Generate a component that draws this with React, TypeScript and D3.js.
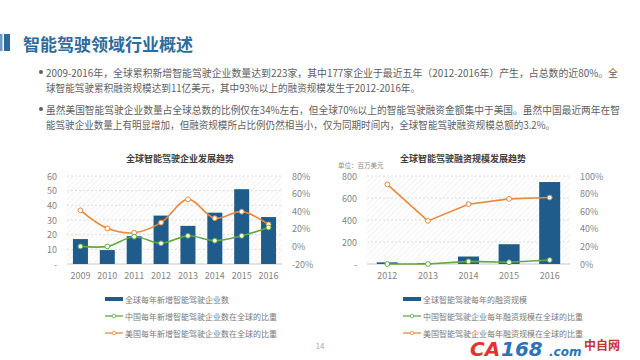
import React from "react";
import * as d3 from "d3";

// left chart: companies
const yearsA = ["2009", "2010", "2011", "2012", "2013", "2014", "2015", "2016"];
const newCompanies = [17, 9.5, 19, 33, 26, 35, 51, 32];
const chinaShareA = [0, 0, 11, 3.5, 12, 6.5, 12, 21.5];
const usShareA = [41, 20.5, 15.5, 27, 53.5, 32, 39.5, 25];
const leftTicksA = [10, 20, 30, 40, 50, 60];
const rightTicksA = [-20, 0, 20, 40, 60, 80];

// right chart: funding (million USD)
const yearsB = ["2012", "2013", "2014", "2015", "2016"];
const funding = [15, 8, 68, 180, 745];
const chinaShareB = [0, 0, 3, 2, 4.5];
const usShareB = [90.5, 49, 68, 74, 75.5];
const leftTicksB = [200, 400, 600, 800];
const rightTicksB = [0, 20, 40, 60, 80, 100];

const legendA = [
  "全球每年新增智能驾驶企业数",
  "中国每年新增智能驾驶企业数在全球的比重",
  "美国每年新增智能驾驶企业数在全球的比重",
];
const legendB = [
  "全球智能驾驶每年的融资规模",
  "中国智能驾驶企业每年融资规模在全球的比重",
  "美国智能驾驶企业每年融资规模在全球的比重",
];

const bodyLines = [
  "2009-2016年，全球累积新增智能驾驶企业数量达到223家，其中177家企业于最近五年（2012-2016年）产生，占总数的近80%。全",
  "球智能驾驶累积融资规模达到11亿美元，其中93%以上的融资规模发生于2012-2016年。",
  "虽然美国智能驾驶企业数量占全球总数的比例仅在34%左右，但全球70%以上的智能驾驶融资金额集中于美国。虽然中国最近两年在智",
  "能驾驶企业数量上有明显增加，但融资规模所占比例仍然相当小，仅为同期时间内，全球智能驾驶融资规模总额的3.2%。",
];

const FONT = "'Noto Sans CJK SC', 'Noto Sans', sans-serif";
const BAR = "#1f5b8b";
const GREEN = "#62a844";
const ORANGE = "#e8893b";
const AXIS_TXT = "#858585";

interface ChartProps {
  years: string[];
  bars: number[];
  china: number[];
  us: number[];
  leftTicks: number[];
  rightTicks: number[];
  leftMax: number;
  rightMin: number;
  rightMax: number;
  x0: number;
  x1: number;
  barW: number;
  curved: boolean;
}

function Combo(p: ChartProps) {
  const top = 176;
  const bottom = 264;
  const x = d3.scaleBand().domain(p.years).range([p.x0, p.x1]);
  const yL = d3.scaleLinear().domain([0, p.leftMax]).range([bottom, top]);
  const yR = d3.scaleLinear().domain([p.rightMin, p.rightMax]).range([bottom, top]);
  const cx = (i: number) => (x(p.years[i]) as number) + x.bandwidth() / 2;
  const line = d3
    .line<number>()
    .x((_, i) => cx(i))
    .y((d) => yR(d))
    .curve(p.curved ? d3.curveCatmullRom.alpha(0.5) : d3.curveLinear);

  return (
    <g fontFamily={FONT}>
      <rect x={p.x0} y={top} width={p.x1 - p.x0} height={bottom - top} fill="url(#hatch)" />
      {p.leftTicks.map((t) => (
        <line key={t} x1={p.x0} x2={p.x1} y1={yL(t)} y2={yL(t)} stroke="#d4d4d4" strokeDasharray="2,2" strokeWidth={0.8} />
      ))}
      <line x1={p.x0} x2={p.x1} y1={bottom} y2={bottom} stroke="#c8c8c8" strokeWidth={1} />
      {p.leftTicks.concat([0]).map((t) => (
        <text key={t} x={p.x0 - 10} y={yL(t)} textAnchor="end" dominantBaseline="central" fontSize={9} fill={AXIS_TXT}>
          {t === 0 ? "-" : t}
        </text>
      ))}
      {p.rightTicks.map((t) => (
        <text key={t} x={p.x1 + 10} y={yR(t)} dominantBaseline="central" fontSize={9} fill={AXIS_TXT}>
          {t + "%"}
        </text>
      ))}
      {p.years.map((yr) => (
        <text key={yr} x={(x(yr) as number) + x.bandwidth() / 2} y={bottom + 11} textAnchor="middle" dominantBaseline="central" fontSize={9} fill={AXIS_TXT}>
          {yr}
        </text>
      ))}
      {p.bars.map((v, i) => (
        <rect key={i} x={cx(i) - p.barW / 2} y={yL(v)} width={p.barW} height={bottom - yL(v)} fill={BAR} />
      ))}
      <path d={line(p.us) || ""} fill="none" stroke={ORANGE} strokeWidth={1.6} />
      <path d={line(p.china) || ""} fill="none" stroke={GREEN} strokeWidth={1.6} />
      {p.us.map((v, i) => (
        <circle key={"u" + i} cx={cx(i)} cy={yR(v)} r={2.4} fill="#fff" stroke={ORANGE} strokeWidth={1} />
      ))}
      {p.china.map((v, i) => (
        <circle key={"c" + i} cx={cx(i)} cy={yR(v)} r={2.4} fill="#fff" stroke={GREEN} strokeWidth={1} />
      ))}
    </g>
  );
}

function Legend({ x, labels }: { x: number; labels: string[] }) {
  const rows = [299, 316, 333];
  const colors = [BAR, GREEN, ORANGE];
  return (
    <g fontFamily={FONT}>
      {labels.map((l, i) => (
        <g key={l}>
          {i === 0 ? (
            <rect x={x} y={rows[i] - 2} width={18} height={4} fill={colors[i]} />
          ) : (
            <g>
              <line x1={x} x2={x + 18} y1={rows[i]} y2={rows[i]} stroke={colors[i]} strokeWidth={1.3} />
              <circle cx={x + 9} cy={rows[i]} r={1.8} fill="#fff" stroke={colors[i]} strokeWidth={0.8} />
            </g>
          )}
          <text x={x + 20} y={rows[i]} dominantBaseline="central" fontSize={8} fill="#7a7a7a">
            {l}
          </text>
        </g>
      ))}
    </g>
  );
}

export default function App() {
  return (
    <svg width={640} height={360} style={{ position: "absolute", left: 0, top: 0, background: "#fff" }}>
      <defs>
        <pattern id="hatch" width={4} height={4} patternUnits="userSpaceOnUse" patternTransform="rotate(45)">
          <line x1={0} y1={0} x2={0} y2={4} stroke="#e6e6e6" strokeWidth={1} />
        </pattern>
      </defs>
      <rect width={640} height={360} fill="#fff" />
      {/* header */}
      <rect x={0} y={34} width={2.5} height={17} fill="#6f9cc4" />
      <rect x={4} y={34} width={6} height={17} fill="#2d6a9c" />
      <text x={23} y={43} dominantBaseline="central" fontFamily={FONT} fontWeight="bold" fontSize={17} fill="#2f6b9b">
        智能驾驶领域行业概述
      </text>
      {/* body text */}
      <g fontFamily={FONT} fontSize={10} fill="#606060">
        <circle cx={41} cy={72} r={2} fill="#606060" />
        <circle cx={41} cy={109} r={2} fill="#606060" />
        {bodyLines.map((s, i) => {
          const ys = [72, 87, 109, 124];
          const ends = [618, 420, 620, 555];
          return (
            <text key={i} x={46} y={ys[i]} dominantBaseline="central" textLength={ends[i] - 46} lengthAdjust="spacingAndGlyphs">
              {s}
            </text>
          );
        })}
      </g>
      {/* chart titles */}
      <text x={180} y={158} textAnchor="middle" dominantBaseline="central" fontFamily={FONT} fontWeight="bold" fontSize={9} fill="#404040">
        全球智能驾驶企业发展趋势
      </text>
      <text x={463} y={158} textAnchor="middle" dominantBaseline="central" fontFamily={FONT} fontWeight="bold" fontSize={9} fill="#404040">
        全球智能驾驶融资规模发展趋势
      </text>
      <text x={338} y={165} dominantBaseline="central" fontFamily={FONT} fontSize={6.5} fill="#8a8a8a">
        单位：百万美元
      </text>
      <Combo
        years={yearsA}
        bars={newCompanies}
        china={chinaShareA}
        us={usShareA}
        leftTicks={leftTicksA}
        rightTicks={rightTicksA}
        leftMax={60}
        rightMin={-20}
        rightMax={80}
        x0={67}
        x1={282}
        barW={15}
        curved={true}
      />
      <Combo
        years={yearsB}
        bars={funding}
        china={chinaShareB}
        us={usShareB}
        leftTicks={leftTicksB}
        rightTicks={rightTicksB}
        leftMax={800}
        rightMin={0}
        rightMax={100}
        x0={367}
        x1={570}
        barW={21}
        curved={false}
      />
      <Legend x={105} labels={legendA} />
      <Legend x={403} labels={legendB} />
      <text x={320} y={345} textAnchor="middle" dominantBaseline="central" fontFamily={FONT} fontSize={8} fill="#aaaaaa">
        14
      </text>
      {/* site watermark, kept below the legend rows */}
      <g fontFamily="'DejaVu Sans', sans-serif" fontWeight="bold" fontStyle="italic" opacity={0.95}>
        <text x={470} y={356} fontSize={20} fill="#e02a22">CA</text>
        <text x={501} y={356} fontSize={20} fill="#1f6cb5">168</text>
        <text x={549} y={356} fontSize={12} fill="#1f6cb5">.com</text>
        <text x={584} y={350} fontSize={12} fill="#c0282a" fontStyle="normal" fontFamily={FONT}>中自网</text>
      </g>
    </svg>
  );
}
